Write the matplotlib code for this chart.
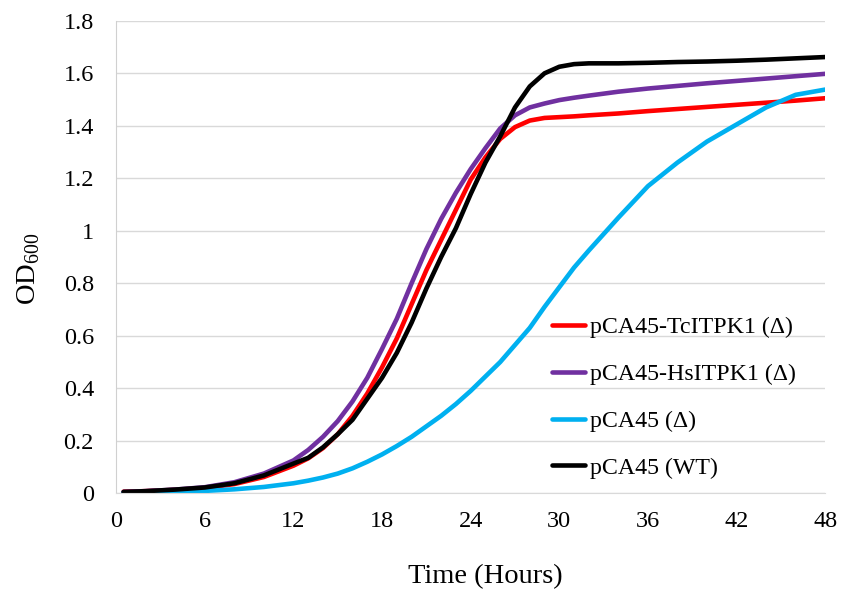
import matplotlib

matplotlib.use("Agg")
import matplotlib.pyplot as plt
from matplotlib.ticker import FuncFormatter

plt.rcParams["font.family"] = ["Liberation Serif", "DejaVu Serif"]
plt.rcParams["mathtext.fontset"] = "custom"
plt.rcParams["mathtext.rm"] = "Liberation Serif"

# time points (hours)
hours = [0.5, 2, 4, 6, 8, 10, 12, 13, 14, 15, 16, 17, 18, 19, 20, 21, 22, 23, 24,
         25, 26, 27, 28, 29, 30, 31, 32, 34, 36, 38, 40, 42, 44, 46, 48]

od_tc = [0.006, 0.008, 0.013, 0.020, 0.035, 0.062, 0.105, 0.133, 0.172, 0.225,
         0.295, 0.380, 0.480, 0.590, 0.720, 0.850, 0.965, 1.080, 1.195, 1.280,
         1.350, 1.395, 1.420, 1.430, 1.433, 1.436, 1.440, 1.447, 1.456, 1.464,
         1.472, 1.480, 1.488, 1.496, 1.505]

od_hs = [0.005, 0.008, 0.014, 0.023, 0.042, 0.075, 0.125, 0.165, 0.215, 0.275,
         0.350, 0.440, 0.550, 0.665, 0.800, 0.930, 1.045, 1.145, 1.235, 1.315,
         1.390, 1.440, 1.470, 1.485, 1.498, 1.507, 1.515, 1.530, 1.542, 1.552,
         1.562, 1.571, 1.580, 1.589, 1.598]

od_delta = [0.003, 0.003, 0.005, 0.009, 0.015, 0.024, 0.038, 0.048, 0.060, 0.075,
            0.095, 0.120, 0.148, 0.180, 0.215, 0.255, 0.295, 0.340, 0.390, 0.445,
            0.500, 0.565, 0.630, 0.710, 0.785, 0.860, 0.925, 1.050, 1.170, 1.260,
            1.340, 1.405, 1.470, 1.518, 1.538]

od_wt = [0.005, 0.008, 0.014, 0.022, 0.038, 0.068, 0.113, 0.135, 0.175, 0.225,
         0.280, 0.360, 0.440, 0.535, 0.650, 0.780, 0.900, 1.010, 1.140, 1.260,
         1.360, 1.470, 1.550, 1.600, 1.625, 1.635, 1.638, 1.638, 1.640, 1.643,
         1.645, 1.648, 1.652, 1.657, 1.662]

labels = ["pCA45-TcITPK1 (\u0394)", "pCA45-HsITPK1 (\u0394)", "pCA45 (\u0394)", "pCA45 (WT)"]
colors = ["#ff0000", "#7030a0", "#00b0f0", "#000000"]

fig = plt.figure(figsize=(8.42, 5.95), dpi=100)
ax = fig.add_axes([0.138, 0.171, 0.842, 0.794])

for od, lab, col in zip([od_tc, od_hs, od_delta, od_wt], labels, colors):
    ax.plot(hours, od, color=col, lw=3.3, label=lab, solid_capstyle="round")

ax.set_xlim(0, 48)
ax.set_ylim(0, 1.8)
ax.set_xticks(range(0, 49, 6))
ax.set_yticks([i * 0.2 for i in range(10)])
ax.yaxis.set_major_formatter(FuncFormatter(lambda v, p: f"{v:g}"))
ax.tick_params(length=0, labelsize=17.5)
ax.tick_params(axis="x", pad=13)
ax.tick_params(axis="y", pad=16)

ax.grid(axis="y", color="#d9d9d9", lw=1)
ax.set_axisbelow(True)
for s in ["top", "right"]:
    ax.spines[s].set_visible(False)
ax.spines["left"].set_color("#d0d0d0")
ax.spines["bottom"].set_color("#d9d9d9")

ax.set_xlabel("Time (Hours)", fontsize=20.5)
ax.xaxis.set_label_coords(0.52, -0.15)
ax.set_ylabel("OD$_{600}$", fontsize=20.5)
ax.yaxis.set_label_coords(-0.104, 0.475)

ax.legend(loc="upper left", bbox_to_anchor=(0.655, 0.468), bbox_transform=fig.transFigure,
          frameon=False, fontsize=17.2, handlelength=1.4, handletextpad=0.2,
          labelspacing=1.05, borderpad=0, borderaxespad=0)

fig.savefig("out.png", dpi=100)
